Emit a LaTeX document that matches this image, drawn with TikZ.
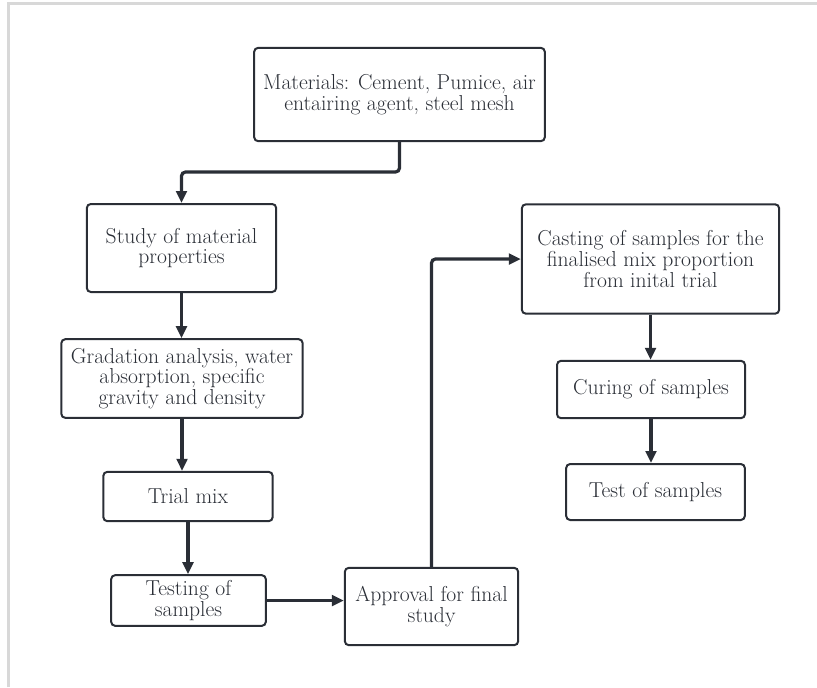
\documentclass[tikz,border=0pt]{standalone}
\usepackage{tikz}
\usetikzlibrary{arrows.meta, positioning, calc}
\usepackage{xcolor}
\definecolor{lineDark}{RGB}{42,46,54}
\definecolor{frameGray}{RGB}{216,216,216}
\tikzset{
    font=\fontsize{16.2}{15.5}\selectfont,
    >={Triangle[length=9pt, width=8pt]},
    % Shapes
    comp/.style={rectangle, draw=lineDark, line width=1.5pt, rounded corners=3pt,
                 align=center, text=lineDark, inner sep=2pt},
    % Flow
    flow/.style={->, line width=2.4pt, lineDark, rounded corners=3pt}
}
\begin{document}
\begin{tikzpicture}[x=0.75pt, y=-0.75pt]

\useasboundingbox (0,0) rectangle (817,687);
\draw[frameGray, line width=1.6pt] (8.5,687) |- (817,3.5);

\node[comp, minimum width=218pt, minimum height=70pt] (mat) at (399.5,94.5)
    {Materials: Cement, Pumice, air\\entairing agent, steel mesh};
\node[comp, minimum width=142pt, minimum height=66pt] (study) at (181.5,248)
    {Study of material\\properties};
\node[comp, minimum width=181pt, minimum height=59pt] (grad) at (182,378.5)
    {Gradation analysis, water\\absorption, specific\\gravity and density};
\node[comp, minimum width=127pt, minimum height=37pt] (trial) at (188,496.5)
    {Trial mix};
\node[comp, minimum width=116pt, minimum height=38pt] (testing) at (188.5,600.5)
    {Testing of\\samples};
\node[comp, minimum width=130pt, minimum height=58pt] (appr) at (431.5,606.5)
    {Approval for final\\study};
\node[comp, minimum width=193pt, minimum height=82pt] (cast) at (650.5,259)
    {Casting of samples for the\\finalised mix proportion\\from inital trial};
\node[comp, minimum width=141pt, minimum height=43pt] (cure) at (651,389.5)
    {Curing of samples};
\node[comp, minimum width=134pt, minimum height=42pt] (test) at (655.5,492)
    {Test of samples};

\coordinate (elbow) at (0,172);

\draw[flow] (mat.south) -- (mat.south |- elbow) -| (study.north);
\draw[flow] (study.south) -- (study.south |- grad.north);
\draw[flow] (grad.south) -- (grad.south |- trial.north);
\draw[flow] (trial.south) -- (trial.south |- testing.north);
\draw[flow] (testing.east) -- (testing.east -| appr.west);
\draw[flow] (appr.north) |- (cast.west);
\draw[flow] (cast.south) -- (cast.south |- cure.north);
\draw[flow] (cure.south) -- (cure.south |- test.north);

\end{tikzpicture}
\end{document}
